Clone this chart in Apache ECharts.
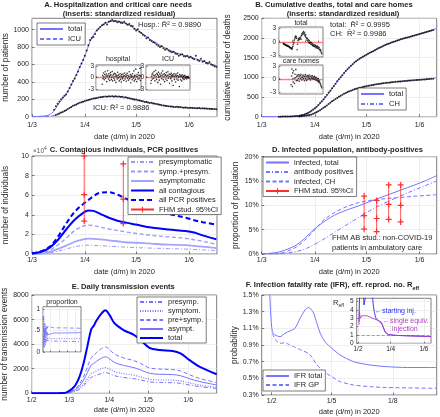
<!DOCTYPE html>
<html>
<head>
<meta charset="utf-8">
<script src="https://cdn.jsdelivr.net/npm/echarts@6.0.0/dist/echarts.min.js"></script>
<style>
html,body{margin:0;padding:0;background:#ffffff;}
#chart{width:440px;height:417px;}
</style>
</head>
<body>
<div id="chart"></div>
<script>
// ======================= DATA (day-of-year 2020: 1 Feb = 31, 1 Mar = 60, 1 Apr = 91, 1 May = 121, 1 Jun = 152, 1 Aug = 213) =======================
const monthLabels = {31:'1/2', 60:'1/3', 91:'1/4', 121:'1/5', 152:'1/6', 213:'1/8'};
const ticksMarJun = [60, 91, 121, 152];
const ticksFebJun = [31, 60, 91, 121, 152];
const ticksFebAug = [31, 121, 213];
const ticksInsetF = [31, 91, 152];

// ---- A. hospitalization ----
const aCurveDays = [60,65,70,73,76,80,84,88,91,94,97,101,105,109,113,117,121,125,130,135,140,145,150,155,160,165,168];
const aHospCurve = [1,5,20,70,160,260,400,570,700,860,970,1050,1090,1100,1085,1050,1000,950,880,820,770,730,700,670,640,605,585];
const aIcuCurve  = [0,1,5,15,35,75,125,160,180,198,212,225,233,235,228,215,198,180,160,140,120,112,106,100,96,90,86];
const aHospStart = 73;
const aHospObs = [80,120,150,175,200,220,240,255,
 290,330,370,410,440,480,520,570,610,650,
 700,760,820,880,905,915,950,990,1010,1030,
 1050,1060,1080,1060,1090,1100,1110,1095,1100,1085,
 1090,1080,1075,1090,1070,1055,1065,1045,1040,1010,
 990,1005,975,960,940,930,900,910,880,870,
 855,850,830,815,800,810,785,770,780,760,
 750,740,745,725,720,700,712,718,695,690,
 700,680,688,670,660,700,650,640,665,630,
 640,618,610,628,600,592,580,575];
const aIcuStart = 74;
const aIcuObs = [20,28,38,48,55,65,75,
 88,100,112,125,132,140,152,160,165,172,
 180,185,192,198,202,208,212,215,220,222,
 225,228,232,228,236,232,235,230,236,228,
 232,226,228,220,224,214,212,205,202,196,
 198,190,186,180,176,170,168,162,158,160,
 152,148,145,140,138,132,128,125,122,120,
 116,118,112,110,113,108,110,106,104,107,
 104,101,103,99,100,98,97,99,95,96,
 93,94,90,92,89,88,87,85];
const aHospResStart = 75;
const aHospRes = [-1.8,0.5,-0.3,1.2,0.2,-0.6,0.8,1.5,-0.2,0.4,
 0.9,-1.1,0.3,1.8,0.6,-0.4,1.0,0.2,-0.8,0.5,
 1.3,0.7,-0.5,0.1,1.6,-0.9,0.4,0.8,-0.2,1.1,
 -0.7,0.3,0.9,-1.3,0.6,0.2,-0.4,1.4,0.5,-0.1,
 0.7,-0.9,0.2,1.0,-0.5,0.4,-1.2,0.8,0.1,-0.3,
 0.9,0.3,-0.8,0.5,1.2,-0.4,0.2,0.7,-1.0,0.4,
 1.1,-0.2,0.6,-0.7,0.3,1.5,-0.3,0.2,0.8,-1.4,
 0.5,0.1,-0.6,1.0,0.3,-0.2,1.7,-0.9,0.4,0.6,
 -0.5,2.2,0.3,-1.1,0.8,0.2,-0.4,1.3,0.6,-0.3,
 0.5,2.4,-0.8,0.4];
const aIcuResStart = 72;
const aIcuRes = [-1.5,-0.8,0.3,0.9,-0.4,1.2,0.6,-0.2,1.6,0.4,
 -0.9,0.7,1.9,0.2,-0.5,1.1,0.8,-1.3,0.5,1.4,
 0.1,-0.7,0.9,0.3,-1.8,0.6,1.2,-0.3,0.4,1.7,
 0.8,-0.6,0.2,1.0,-1.1,0.5,0.7,-0.4,1.3,0.3,
 -0.8,0.6,1.5,-0.2,0.4,0.9,-1.5,0.2,0.8,-0.3,
 1.1,0.5,-0.9,0.3,0.7,-2.1,0.4,1.0,-0.5,0.2,
 0.6,-1.2,0.9,0.3,-0.4,0.5,1.2,-0.7,0.1,0.4,
 -2.4,0.8,0.2,-0.6,0.5,0.3,-0.9,0.7,0.1,-0.3,
 0.4,0.2,-0.5,0.6,0.1,-0.2,0.3,0.0,-0.4,0.2,
 0.1,-0.1,0.3,0.0,-0.2];

// ---- B. cumulative deaths ----
const bCurveDays = [60,70,75,78,80,83,86,88,91,94,97,100,103,106,109,112,115,118,121,125,129,133,137,141,145,149,153,157,162];
const bTotalCurve = [0,1,3,8,15,35,80,125,210,330,480,650,830,1000,1160,1290,1410,1500,1575,1670,1760,1840,1905,1960,2015,2065,2115,2165,2245];
const bChCurve = [0,0,0,1,3,10,25,45,100,170,260,360,450,530,600,660,710,745,775,810,840,865,885,900,915,930,945,960,990];
const bTotalStart = 70;
const bTotalObs = [1,1,2,3,3,4,5,7,9,12,
 16,20,27,35,45,58,75,95,120,150,
 180,215,255,300,345,395,445,500,560,615,
 660,720,780,840,900,950,1000,1055,1110,1160,
 1205,1250,1295,1335,1375,1410,1440,1470,1500,1525,
 1550,1575,1600,1625,1645,1665,1690,1715,1740,1760,
 1780,1800,1820,1840,1855,1870,1890,1905,1920,1935,
 1950,1965,1978,1990,2003,2015,2028,2040,2052,2065,
 2078,2090,2103,2115,2128,2140,2152,2165,2178,2190,
 2205];
const bChStart = 82;
const bChObs = [8,12,16,22,28,36,46,58,
 75,95,115,140,165,195,225,255,285,320,
 355,390,420,450,478,505,530,555,580,602,
 625,645,662,678,695,710,722,735,745,756,
 766,775,784,792,800,808,815,822,830,836,
 842,848,854,860,865,870,875,880,885,889,
 893,897,901,905,909,913,917,920,924,927,
 931,934,938,941,945,948,952,955,959,962,
 966];
const bTotalResStart = 70;
const bTotalRes = [-0.3,-0.5,-0.4,-0.6,-0.5,-0.7,-0.6,-0.8,-0.7,-0.9,-0.8,-1.0,-0.9,-1.1,-1.0,-1.2,
 -1.3,-1.2,-1.5,-1.4,-1.6,-1.3,-1.0,-0.6,
 -0.2,0.3,0.6,1.0,1.3,0.9,1.2,0.8,
 -1.7,-0.5,0.3,0.6,0.8,0.5,0.9,
 0.7,1.1,0.6,1.4,1.8,1.6,2.1,1.9,
 2.3,1.7,2.0,1.5,1.2,1.6,1.0,0.7,
 0.4,0.8,0.2,0.5,-0.1,0.3,-0.3,0.0,
 -0.2,-0.5,-0.1,-0.6,-0.4,-0.8,-0.5,-0.9,
 -0.7,-1.0,-0.6,-1.1,-0.8,-1.3,-1.0,-1.2,
 -0.9,-1.4,-1.1,-1.5,-1.2,-1.7,-1.6,-2.0,-1.8,-2.3,-2.6];
const bChResStart = 88;
const bChRes = [-1.2,0.8,2.4,-1.6,1.5,-0.6,2.0,0.3,
 -0.9,1.2,0.4,2.3,-0.3,0.6,1.0,-0.2,
 0.8,0.3,1.1,-0.4,0.6,0.9,0.2,1.2,
 0.5,-0.1,0.8,0.4,1.0,0.2,0.7,-0.3,
 0.6,1.1,0.3,0.8,-0.2,0.5,0.9,0.1,
 0.7,0.4,1.0,0.2,0.6,-0.1,0.8,0.3,
 0.5,0.9,0.2,0.6,0.1,0.4,0.7,0.0,
 0.3,0.5,-0.2,0.4,0.1,-0.3,0.2,-0.5,
 -0.2,-0.6,-0.4,-0.8,-1.0,-1.3,-1.6,-1.9];

// ---- C. contagious individuals ----
const cDays = [60,65,70,75,80,85,90,93,96,100,105,110,115,121,130,140,150,155,160,168];
const cPresym = [50,200,1000,2800,5000,7500,8800,9000,8800,8500,8000,7500,7000,6500,6000,5500,5000,4600,4200,3500];
const cSympPre = [200,800,3500,9000,16000,24000,28500,29500,29000,27500,25500,24000,22500,21000,19000,17500,16000,14500,13000,10000];
const cAsym = [100,400,2000,5000,8500,12500,15000,15700,15500,15000,14000,13000,12000,11500,10500,9500,9000,8300,7500,6000];
const cContagious = [500,2000,6000,14000,25000,35000,42000,44500,44000,41000,37000,34000,32000,30000,27000,25000,23500,22000,19000,15000];
const cPCR = [500,2500,7000,17000,31000,43000,51000,55000,59000,62500,63000,60500,56500,52000,46000,41000,37000,34500,32500,30000];
const cStudyDays = [90.6, 113.5];
const cStudyLow  = [33500, 31000];
const cStudyMid  = [60500, 56000];
const cStudyHigh = [100000, 92000];

// ---- D. infected population ----
const dDays = [60,65,70,75,80,85,91,95,100,105,110,115,121,130,140,150,155,162];
const dInfTotal = [0.05,0.15,0.4,1.0,1.8,3.2,5.2,6.3,7.5,8.4,9.1,9.7,10.5,11.7,13.0,14.3,15.0,16.1];
const dAntibody = [0,0.02,0.1,0.25,0.5,1.0,2.0,2.8,3.9,5.0,6.1,7.2,8.5,10.2,11.8,13.3,14.0,15.0];
const dInfCH = [0,0,0.05,0.6,1.4,2.8,5.0,6.6,8.0,9.0,9.8,10.4,10.9,11.3,11.6,11.9,12.0,12.2];
const dStudyDays = [119.7, 127, 134, 141];
const dStudyLow  = [5.1, 4.6, 7.1, 6.6];
const dStudyMid  = [7.9, 7.3, 10.2, 10.0];
const dStudyHigh = [11.9, 11.0, 14.2, 14.2];

// ---- E. daily transmission events ----
const eDays = [31,50,55,58,62,65,68,71,74,77,79,81,85,88,91,95,102,110,115,122,130,140,146,153,161,174];
const ePresymp = [0,1,5,20,85,175,330,600,950,1300,1370,1470,1620,1690,1600,1430,1290,1190,1090,930,880,860,810,670,540,390];
const eSymptom = [0,2,6,25,110,215,420,745,1180,1610,1700,1830,2010,2090,1980,1770,1600,1470,1350,1150,1090,1070,1010,840,670,480];
const ePreSymp = [0,3,11,45,195,390,750,1340,2120,2900,3070,3300,3640,3780,3580,3190,2880,2660,2440,2070,1970,1930,1820,1510,1200,870];
const eAsym = [0,2,9,35,155,310,600,1060,1680,2300,2430,2600,2860,2970,2820,2510,2270,2090,1910,1630,1550,1520,1430,1190,950,680];
const eTotal = [0,5,20,80,350,700,1350,2400,3800,5200,5500,5900,6500,6750,6400,5700,5150,4750,4350,3700,3520,3450,3250,2700,2150,1550];
const eInsetDays = [32,34,36,38,40,42,44,46,48,50,53,56,60,65,70,80,100,174];
const eInsPresymp = [0.82,0.1,0.4,0.2,0.3,0.2,0.27,0.24,0.27,0.25,0.26,0.26,0.26,0.25,0.25,0.25,0.25,0.24];
const eInsSymptom = [0,0.85,0.1,0.45,0.15,0.4,0.25,0.38,0.28,0.33,0.3,0.32,0.31,0.31,0.31,0.31,0.31,0.31];
const eInsPreSymp = [0.82,0.7,0.5,0.66,0.45,0.6,0.52,0.62,0.55,0.6,0.57,0.6,0.58,0.57,0.56,0.56,0.56,0.55];
const eInsAsym = [0.18,0.3,0.5,0.34,0.55,0.4,0.48,0.38,0.45,0.4,0.43,0.4,0.42,0.43,0.44,0.44,0.44,0.45];

// ---- F. IFR and R_eff ----
const fTotalDays = [27,29.5,32,36,43.5,51,58.6,66,73.7,81,86,93,99,104,111,121.5,134,154,179,204,235,279];
const fTotalVals = [1.7,1.28,1.06,1.02,1.0,1.04,1.07,1.1,1.22,1.32,1.35,1.3,1.16,1.04,0.94,0.86,0.78,0.70,0.66,0.64,0.63,0.63];
const fGpDays = [32,36,41,46,51,56,64,75,86,92,98,104,111,121.5,134,154,179,204,279];
const fGpVals = [1.04,0.97,0.93,0.92,0.93,0.91,0.88,0.84,0.80,0.75,0.67,0.62,0.57,0.52,0.46,0.42,0.40,0.39,0.38];
const fStartDays = [32.8,34,36,41,42,43.5,45,46,52,57,59,61,64,70,75,78,81,86.6,100,123,145,165];
const fStartVals = [2.6,6,6.5,6,4.6,4.4,4.6,6,7,6,4.6,3.7,3.0,2.6,2.3,1.8,1.3,1.05,0.95,0.9,0.85,0.8];
const fSingleDays = [32.8,33.5,35.3,37.8,47,55,62,70,74.4,77,80.5,86.6,100,123,145,165];
const fSingleVals = [2.2,3.8,3.0,3.3,3.3,3.1,2.9,2.7,2.5,2.0,1.4,1.05,0.95,0.9,0.85,0.8];

// ======================= STYLE / BUILD =======================
const FONT = '"Liberation Sans", Arial, Helvetica, sans-serif';
const TXT = '#262626';
const GRIDC = '#e4e4e4';
const LB = '#7474ff';
const LB2 = '#9898ff';
const DB = '#0000ff';
const RED = '#ff2f2f';
const DASHDOT = [4, 2, 1, 2];
const DOTTED = [1, 1.5];
const DASHED = [4, 2.5];
const PLUS = 'path://M4,0H6V4H10V6H6V10H4V6H0V4H4Z';
const NOSYM = {color: 'rgba(0,0,0,0)', borderColor: 'rgba(0,0,0,0)', borderWidth: 0, opacity: 0};

const zip = (xs, ys) => xs.map((x, i) => [x, ys[i]]);
const seq = (start, vals) => vals.map((v, i) => [start + i, v]);

const grids = [], xAxes = [], yAxes = [], series = [], legends = [], graphics = [];

function addGrid(g) {
  const i = grids.length;
  const inset = !!g.inset;
  grids.push({left: g.l, top: g.t, width: g.w, height: g.h, show: true, backgroundColor: '#fff',
    borderColor: '#262626', borderWidth: 0.6, z: inset ? 5 : 0, outerBoundsMode: 'none', containLabel: false});
  xAxes.push({type: 'value', gridIndex: i, min: g.xmin, max: g.xmax, z: inset ? 5 : 0,
    name: g.xname || '', nameLocation: 'middle', nameGap: g.xgap || 16,
    nameTextStyle: {fontSize: 7.5, color: TXT, fontFamily: FONT},
    axisLine: {show: false},
    axisTick: {show: true, inside: true, length: inset ? 1.5 : 2.5, customValues: g.xticks, lineStyle: {color: TXT, width: 0.6}},
    axisLabel: {show: g.xlabels !== false, customValues: g.xticks, formatter: v => monthLabels[Math.round(v)] || '',
      fontSize: g.xfs || 7, color: TXT, margin: g.xmargin || 5, fontFamily: FONT},
    splitLine: {show: true, lineStyle: {color: GRIDC, width: 0.6}}
  });
  yAxes.push({type: 'value', gridIndex: i, min: g.ymin, max: g.ymax, z: inset ? 5 : 0,
    name: g.yname || '', nameLocation: 'middle', nameGap: g.ygap || 22,
    nameTextStyle: {fontSize: 8.3, color: TXT, fontFamily: FONT},
    axisLine: {show: false},
    axisTick: {show: true, inside: true, length: inset ? 1.5 : 2.5, customValues: g.yticks, lineStyle: {color: TXT, width: 0.6}},
    axisLabel: {show: true, customValues: g.yticks, formatter: g.yfmt || (v => String(v)),
      fontSize: g.yfs || 7, color: TXT, margin: g.ymargin || 3, fontFamily: FONT},
    splitLine: {show: true, lineStyle: {color: GRIDC, width: 0.6}}
  });
  return i;
}

function curve(name, gi, data, color, width, type, extra) {
  series.push(Object.assign({type: 'line', name: name, xAxisIndex: gi, yAxisIndex: gi, data: data,
    symbol: 'none', showSymbol: false, smooth: 0.35, clip: true,
    lineStyle: {color: color, width: width, type: type}, itemStyle: {color: color}, z: 3, silent: true}, extra || {}));
}
function dots(gi, data, extra) {
  series.push(Object.assign({type: 'scatter', xAxisIndex: gi, yAxisIndex: gi, data: data,
    symbolSize: 2, itemStyle: {color: '#000'}, z: 4, silent: true}, extra || {}));
}
function errbar(name, gi, x, lo, mid, hi) {
  series.push({type: 'line', name: name, xAxisIndex: gi, yAxisIndex: gi, data: [[x, lo], [x, mid], [x, hi]],
    symbol: PLUS, symbolSize: 6, showSymbol: true, clip: false,
    lineStyle: {color: RED, width: 0.8}, itemStyle: {color: RED}, z: 6, silent: true});
}
function zeroLine(color, width, type, y) {
  return {silent: true, symbol: ['none', 'none'], label: {show: false}, animation: false,
    lineStyle: {color: color, width: width, type: type}, data: [{yAxis: y}]};
}
function addLegend(names, left, top, o) {
  const items = names.map(n => n.indexOf('FHM') >= 0 ? {name: n} : {name: n, itemStyle: NOSYM});
  legends.push(Object.assign({data: items, left: left, top: top, orient: 'vertical',
    itemWidth: 23, itemHeight: 7, itemGap: 1.5, padding: [1, 3, 1, 2],
    backgroundColor: '#fff', borderColor: '#262626', borderWidth: 0.6, borderRadius: 0,
    textStyle: {fontSize: 7.5, color: TXT, fontFamily: FONT},
    formatter: n => n.slice(2), selectedMode: false, z: 10}, o || {}));
}
function label(x, y, text, o) {
  graphics.push({type: 'text', x: x, y: y, z: 100, silent: true,
    style: Object.assign({text: text, fill: TXT, fontSize: 7.5, fontFamily: FONT, align: 'left', verticalAlign: 'middle'}, o || {})});
}
const R2 = 'R\u0304\u00b2';
const XNAME = 'date (d/m) in 2020';

// ---------- Panel A ----------
const gA = addGrid({l: 32, t: 18.3, w: 185, h: 98.4, xmin: 60, xmax: 168.4, xticks: ticksMarJun, xname: XNAME,
  ymin: 0, ymax: 1130, yticks: [0, 200, 400, 600, 800, 1000], yname: 'number of patients', ygap: 22});
curve('A|total', gA, zip(aCurveDays, aHospCurve), LB, 1, 'solid');
curve('A|ICU', gA, zip(aCurveDays, aIcuCurve), LB, 1, DASHED);
dots(gA, seq(aHospStart, aHospObs));
dots(gA, seq(aIcuStart, aIcuObs));
addLegend(['A|total', 'A|ICU'], 37, 23, {itemGap: 2, padding: [2, 3, 2, 2]});
const gAh = addGrid({inset: true, l: 96, t: 65, w: 45, h: 25, xmin: 60, xmax: 168.4, xticks: ticksMarJun, xlabels: false,
  ymin: -3.3, ymax: 3.3, yticks: [-3, 0, 3], yfs: 6.5, ymargin: 2});
dots(gAh, seq(aHospResStart, aHospRes), {symbolSize: 1.6, z: 7, markLine: zeroLine('#ff8080', 1.3, 'solid', 0)});
const gAi = addGrid({inset: true, l: 146, t: 65, w: 44, h: 25, xmin: 60, xmax: 168.4, xticks: ticksMarJun, xlabels: false,
  ymin: -3.3, ymax: 3.3, yticks: [-3, 0, 3], yfs: 6.5, ymargin: 2});
dots(gAi, seq(aIcuResStart, aIcuRes), {symbolSize: 1.6, z: 7, markLine: zeroLine('#ff8080', 1.3, 'solid', 0)});
label(118, 4.5, 'A. Hospitalization and critical care needs', {fontWeight: 'bold', fontSize: 7.6, align: 'center'});
label(119, 13.5, '(inserts: standardized residual)', {fontWeight: 'bold', fontSize: 7.6, align: 'center'});
label(138, 25, 'Hosp.: ' + R2 + ' = 0.9890');
label(93, 108, 'ICU: ' + R2 + ' = 0.9886');
label(118, 59, 'hospital', {align: 'center', fontSize: 7});
label(168, 59, 'ICU', {align: 'center', fontSize: 7});

// ---------- Panel B ----------
const gB = addGrid({l: 261.7, t: 18.3, w: 175, h: 98.4, xmin: 60, xmax: 162, xticks: ticksMarJun, xname: XNAME,
  ymin: 0, ymax: 2500, yticks: [0, 500, 1000, 1500, 2000, 2500], yname: 'cumulative number of deaths', ygap: 30});
curve('B|total', gB, zip(bCurveDays, bTotalCurve), LB, 1, 'solid');
curve('B|CH', gB, zip(bCurveDays, bChCurve), LB, 1, DASHDOT);
dots(gB, seq(bTotalStart, bTotalObs));
dots(gB, seq(bChStart, bChObs));
addLegend(['B|total', 'B|CH'], 358, 88, {itemGap: 2, padding: [2, 3, 2, 2]});
const gBt = addGrid({inset: true, l: 279, t: 27, w: 44, h: 30, xmin: 60, xmax: 162, xticks: ticksMarJun, xlabels: false,
  ymin: -3.3, ymax: 3.3, yticks: [-3, 0, 3], yfs: 6.5, ymargin: 3});
dots(gBt, seq(bTotalResStart, bTotalRes), {symbolSize: 1.6, z: 7, markLine: zeroLine('#ff8080', 1.3, 'solid', 0)});
const gBc = addGrid({inset: true, l: 279, t: 65, w: 44, h: 29, xmin: 60, xmax: 162, xticks: ticksMarJun, xlabels: false,
  ymin: -3.3, ymax: 3.3, yticks: [-3, 0, 3], yfs: 6.5, ymargin: 3});
dots(gBc, seq(bChResStart, bChRes), {symbolSize: 1.6, z: 7, markLine: zeroLine('#ff8080', 1.3, 'solid', 0)});
label(334, 4.5, 'B. Cumulative deaths, total and care homes', {fontWeight: 'bold', fontSize: 7.6, align: 'center'});
label(343, 13.5, '(inserts: standardized residual)', {fontWeight: 'bold', fontSize: 7.6, align: 'center'});
label(330, 25, 'total:  ' + R2 + ' = 0.9995');
label(330, 33.5, 'CH:  ' + R2 + ' = 0.9986');
label(301, 23, 'total', {align: 'center', fontSize: 7});
label(301, 61.5, 'care homes', {align: 'center', fontSize: 7});

// ---------- Panel C ----------
const gC = addGrid({l: 32, t: 156, w: 185, h: 98, xmin: 60, xmax: 168.4, xticks: ticksMarJun, xname: XNAME, xgap: 14, xmargin: 3,
  ymin: 0, ymax: 100000, yticks: [0, 20000, 40000, 60000, 80000, 100000], yfmt: v => String(v / 10000),
  yname: 'number of individuals', ygap: 22});
curve('C|presymptomatic', gC, zip(cDays, cPresym), LB2, 1, DASHDOT);
curve('C|symp.+presym.', gC, zip(cDays, cSympPre), LB2, 1.3, DASHED);
curve('C|asymptomatic', gC, zip(cDays, cAsym), '#a4a4ff', 1.8, 'solid');
curve('C|all contagious', gC, zip(cDays, cContagious), DB, 2, 'solid');
curve('C|all PCR positives', gC, zip(cDays, cPCR), DB, 2, [5, 3]);
cStudyDays.forEach((d, i) => errbar('C|FHM stud. 95%CI', gC, d, cStudyLow[i], cStudyMid[i], cStudyHigh[i]));
addLegend(['C|presymptomatic', 'C|symp.+presym.', 'C|asymptomatic', 'C|all contagious', 'C|all PCR positives', 'C|FHM stud. 95%CI'], 128, 157);
label(124, 150, 'C. Contagious individuals, PCR positives', {fontWeight: 'bold', fontSize: 7.6, align: 'center'});
label(33, 151, '{a|\u00d710}{b|4}', {rich: {a: {fontSize: 6.5, fill: '#555', fontFamily: FONT}, b: {fontSize: 5, fill: '#555', fontFamily: FONT, verticalAlign: 'top', padding: [0, 0, 4, 0]}}});

// ---------- Panel D ----------
const gD = addGrid({l: 261.7, t: 156.7, w: 175, h: 97.3, xmin: 60, xmax: 162, xticks: ticksMarJun, xname: XNAME, xgap: 14, xmargin: 3,
  ymin: 0, ymax: 20, yticks: [0, 5, 10, 15, 20], yfmt: v => v + '%', yname: 'proportion of population', ygap: 22});
curve('D|infected, total', gD, zip(dDays, dInfTotal), LB, 1, 'solid');
curve('D|antibody positives', gD, zip(dDays, dAntibody), LB, 1, DASHDOT);
curve('D|infected, CH', gD, zip(dDays, dInfCH), LB, 1, DASHED);
dStudyDays.forEach((d, i) => errbar('D|FHM stud. 95%CI', gD, d, dStudyLow[i], dStudyMid[i], dStudyHigh[i]));
addLegend(['D|infected, total', 'D|antibody positives', 'D|infected, CH', 'D|FHM stud. 95%CI'], 263, 157, {padding: [1.5, 3, 1.5, 2]});
label(347.5, 150, 'D. Infected population, antibody-positives', {fontWeight: 'bold', fontSize: 7.6, align: 'center'});
label(332, 238.3, 'FHM AB stud.: non-COVID-19');
label(332, 248.3, 'patients in ambulatory care');

// ---------- Panel E ----------
const gE = addGrid({l: 31.7, t: 295, w: 185, h: 98.3, xmin: 31, xmax: 174, xticks: ticksFebJun, xname: XNAME, xgap: 13, xmargin: 3,
  ymin: 0, ymax: 8000, yticks: [0, 2000, 4000, 6000, 8000], yname: 'number of transmission events', ygap: 23});
curve('E|presymp.', gE, zip(eDays, ePresymp), LB, 1, DASHDOT);
curve('E|symptom.', gE, zip(eDays, eSymptom), LB, 1.1, DOTTED);
curve('E|pre+symp.', gE, zip(eDays, ePreSymp), LB, 1, DASHED);
curve('E|asympt.', gE, zip(eDays, eAsym), LB, 1, 'solid');
curve('E|total', gE, zip(eDays, eTotal), DB, 2, 'solid');
addLegend(['E|presymp.', 'E|symptom.', 'E|pre+symp.', 'E|asympt.', 'E|total'], 137, 297, {itemGap: 1, padding: [1, 3, 1, 2]});
const gEi = addGrid({inset: true, l: 43, t: 306.7, w: 38, h: 45.3, xmin: 31, xmax: 174, xticks: ticksFebJun, xlabels: false,
  ymin: 0, ymax: 1.05, yticks: [0, 0.5, 1], yfmt: v => (v === 0.5 ? '.5' : String(v)), yfs: 6.5, ymargin: 3});
curve('', gEi, zip(eInsetDays, eInsPresymp), LB, 0.8, DASHDOT, {smooth: false, z: 7});
curve('', gEi, zip(eInsetDays, eInsSymptom), LB, 0.9, DOTTED, {smooth: false, z: 7});
curve('', gEi, zip(eInsetDays, eInsPreSymp), LB, 0.8, DASHED, {smooth: false, z: 7});
curve('', gEi, zip(eInsetDays, eInsAsym), LB, 0.8, 'solid', {smooth: false, z: 7});
label(123.3, 286.7, 'E. Daily transmission events', {fontWeight: 'bold', fontSize: 7.6, align: 'center'});
label(62, 302, 'proportion', {align: 'center', fontSize: 7});

// ---------- Panel F ----------
const gF = addGrid({l: 261.7, t: 295, w: 175, h: 100, xmin: 16, xmax: 279, xticks: ticksFebAug, xname: XNAME, xgap: 13, xmargin: 3,
  ymin: 0.3, ymax: 1.5, yticks: [0.3, 0.5, 0.7, 0.9, 1.1, 1.3, 1.5], yfmt: v => v.toFixed(1) + '%', yname: 'probability', ygap: 23});
curve('F|IFR total', gF, zip(fTotalDays, fTotalVals), LB, 1, 'solid', {smooth: 0.25});
curve('F|IFR GP', gF, zip(fGpDays, fGpVals), LB, 1, DASHED, {smooth: 0.25});
addLegend(['F|IFR total', 'F|IFR GP'], 263, 370, {itemGap: 1, padding: [2, 3, 2, 2]});
const gFi = addGrid({inset: true, l: 356.7, t: 298.3, w: 74.3, h: 45, xmin: 28.6, xmax: 165, xticks: ticksInsetF, xfs: 6.5, xmargin: 2,
  ymin: 0, ymax: 5.4, yticks: [0, 1, 2, 3, 4, 5], yfs: 6.5, ymargin: 3});
curve('', gFi, zip(fStartDays, fStartVals), '#2a2aff', 0.9, 'solid', {smooth: false, z: 7});
curve('', gFi, zip(fSingleDays, fSingleVals), '#b23cc6', 0.9, 'solid', {smooth: false, z: 8,
  markLine: zeroLine('#8c8c8c', 0.8, [3, 2], 1)});
label(332.5, 285, '{m|F. Infection fatality rate (IFR), eff. reprod. no. R}{s|eff}', {align: 'center',
  rich: {m: {fontWeight: 'bold', fontSize: 7.6, fontFamily: FONT, fill: TXT}, s: {fontWeight: 'bold', fontSize: 5.5, fontFamily: FONT, fill: TXT, padding: [7, 0, 0, 0]}}});
label(333, 303, '{a|R}{b|eff}', {rich: {a: {fontSize: 7.5, fontFamily: FONT, fill: TXT}, b: {fontSize: 5, fontFamily: FONT, fill: TXT, padding: [5, 0, 0, 0]}}});
label(375, 310.7, '\u2190starting inj.', {fill: '#2a2aff', fontSize: 7});
label(383, 320.7, '\u2190single equiv.', {fill: '#b23cc6', fontSize: 7});
label(392, 329.3, 'injection', {fill: '#b23cc6', fontSize: 7});

// ======================= RENDER =======================
const chart = echarts.init(document.getElementById('chart'), null, {renderer: 'canvas', width: 440, height: 417});
chart.setOption({
  animation: false,
  backgroundColor: '#fff',
  textStyle: {fontFamily: FONT},
  tooltip: {show: false},
  grid: grids,
  xAxis: xAxes,
  yAxis: yAxes,
  legend: legends,
  series: series,
  graphic: graphics
});
</script>
</body>
</html>
